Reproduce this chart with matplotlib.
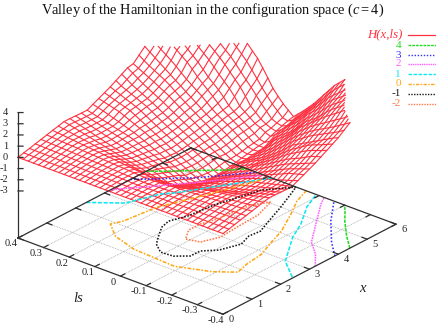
import numpy as np
import matplotlib
matplotlib.use("Agg")
import matplotlib.pyplot as plt
from matplotlib.lines import Line2D
from mpl_toolkits.mplot3d import proj3d

plt.rcParams['font.family'] = ['Liberation Serif', 'DejaVu Serif']
plt.rcParams['mathtext.fontset'] = 'custom'
plt.rcParams['mathtext.rm'] = 'Liberation Serif'
plt.rcParams['mathtext.it'] = 'Liberation Serif:italic'

# grid of the surface
x_grid = np.arange(31) * 0.2
ls_grid = 0.4 - np.arange(41) * 0.02
z_floor = -7.2
z_top = 4

# H(x,ls), one row per x value, ls going from 0.4 to -0.4
H = [
[0]*41,
[.13,.13,.12,.12,.12,.11,.11,.11,.1,.1,.09,.09,.09,.08,.08,.08,.07,.07,.06,.06,.05,.06,.06,.07,.07,.08,.08,.08,.09,.09,.09,.1,.1,.11,.11,.11,.12,.12,.12,.13,.13],
[.26,.25,.24,.24,.23,.22,.21,.2,.2,.19,.18,.17,.16,.16,.15,.14,.13,.12,.12,.11,.1,.11,.12,.12,.13,.14,.15,.16,.16,.17,.18,.19,.2,.2,.21,.22,.23,.24,.24,.25,.26],
[.4,.39,.37,.36,.34,.33,.32,.3,.29,.27,.26,.25,.23,.22,.2,.19,.18,.16,.15,.13,.12,.13,.15,.16,.18,.19,.2,.22,.23,.25,.26,.27,.29,.3,.32,.33,.34,.36,.37,.39,.4],
[.53,.51,.49,.47,.44,.42,.4,.38,.36,.34,.31,.29,.27,.25,.23,.21,.18,.16,.14,.12,.1,.12,.14,.16,.18,.21,.23,.25,.27,.29,.31,.34,.36,.38,.4,.42,.44,.47,.49,.51,.53],
[.66,.63,.6,.57,.54,.52,.49,.46,.43,.4,.37,.34,.31,.28,.25,.23,.2,.17,.14,.11,.08,.11,.14,.17,.2,.23,.25,.28,.31,.34,.37,.4,.43,.46,.49,.52,.54,.57,.6,.63,.66],
[.8,.75,.71,.66,.61,.56,.52,.47,.42,.38,.33,.28,.24,.19,.14,.09,.05,0,-.05,-.1,-.15,-.12,-.09,-.06,-.03,0,.05,.11,.16,.21,.27,.32,.37,.43,.48,.53,.59,.64,.69,.75,.8],
[.92,.84,.77,.69,.61,.54,.46,.38,.31,.23,.15,.08,0,-.09,-.19,-.28,-.38,-.47,-.56,-.66,-.75,-.64,-.54,-.43,-.32,-.21,-.11,0,.07,.14,.21,.28,.35,.42,.5,.57,.64,.71,.78,.85,.92],
[1.05,.94,.83,.72,.61,.5,.39,.28,.17,.06,-.05,-.16,-.26,-.37,-.47,-.58,-.68,-.79,-.89,-1,-1.2,-1.15,-1.06,-.94,-.81,-.69,-.56,-.44,-.31,-.19,-.06,.05,.16,.27,.38,.49,.6,.72,.83,.94,1.05],
[1.05,.92,.79,.66,.53,.39,.26,.13,0,-.11,-.22,-.33,-.44,-.56,-.67,-.78,-.89,-1,-1.2,-1.4,-1.5,-1.4,-1.25,-1.07,-.94,-.82,-.71,-.59,-.47,-.35,-.24,-.12,0,.13,.26,.39,.53,.66,.79,.92,1.05],
[1.02,.89,.76,.63,.5,.37,.24,.11,-.03,-.15,-.27,-.39,-.52,-.64,-.76,-.88,-1,-1.18,-1.36,-1.54,-1.7,-1.55,-1.4,-1.25,-1.1,-.94,-.81,-.69,-.56,-.44,-.31,-.19,-.06,.06,.19,.33,.47,.61,.74,.88,1.02],
[1,.88,.76,.64,.52,.39,.27,.15,.03,-.11,-.27,-.42,-.58,-.73,-.88,-1.02,-1.2,-1.38,-1.56,-1.74,-1.9,-1.74,-1.56,-1.38,-1.2,-1,-.86,-.72,-.59,-.45,-.31,-.17,-.03,.09,.22,.35,.48,.61,.74,.87,1],
[1,.88,.76,.65,.53,.41,.29,.18,.06,-.09,-.27,-.45,-.64,-.82,-1,-1.19,-1.38,-1.57,-1.75,-1.94,-2.1,-2.05,-1.88,-1.63,-1.38,-1.13,-.92,-.76,-.6,-.44,-.28,-.12,.05,.17,.29,.41,.53,.65,.76,.88,1],
[1.25,1.13,1,.85,.7,.55,.4,.24,.09,-.1,-.31,-.52,-.73,-.94,-1.16,-1.37,-1.58,-1.79,-2.05,-2.2,-2.3,-2.25,-1.94,-1.71,-1.47,-1.24,-1,-.82,-.64,-.45,-.27,-.09,.07,.21,.36,.5,.64,.79,.93,1.08,1.25],
[1.5,1.38,1.25,1.13,1,.8,.6,.4,.2,0,-.24,-.47,-.71,-.94,-1.18,-1.4,-1.62,-1.84,-2.1,-2.3,-2.5,-2.3,-2,-1.76,-1.53,-1.29,-1.06,-.86,-.67,-.47,-.28,-.08,.12,.31,.51,.7,.9,1.12,1.25,1.38,1.5],
[1.75,1.6,1.45,1.3,1.15,1,.75,.5,.25,0,-.25,-.5,-.75,-1,-1.22,-1.44,-1.67,-1.89,-2.15,-2.4,-2.6,-2.35,-2,-1.79,-1.57,-1.36,-1.15,-.93,-.71,-.49,-.27,-.05,.18,.41,.65,.88,1.08,1.25,1.42,1.58,1.75],
[2,1.82,1.64,1.45,1.27,1.09,.87,.6,.33,.07,-.18,-.43,-.68,-.93,-1.18,-1.41,-1.65,-1.88,-2.15,-2.45,-2.65,-2.35,-2,-1.78,-1.56,-1.33,-1.11,-.88,-.63,-.38,-.13,.13,.38,.63,.88,1.09,1.27,1.45,1.64,1.82,2],
[2.3,2,1.8,1.6,1.4,1.2,1,.72,.44,.17,-.1,-.35,-.6,-.85,-1.1,-1.34,-1.58,-1.82,-2.1,-2.45,-2.65,-2.35,-2,-1.76,-1.53,-1.29,-1.06,-.75,-.5,-.25,0,.29,.57,.86,1.1,1.3,1.5,1.75,2,2.15,2.3],
[2.6,2.3,2,1.76,1.53,1.29,1.06,.8,.53,.27,0,-.25,-.5,-.75,-1,-1.25,-1.5,-1.75,-2,-2.35,-2.6,-2.3,-1.95,-1.71,-1.47,-1.24,-1,-.71,-.43,-.14,.17,.5,.83,1.13,1.38,1.63,1.88,2.09,2.25,2.42,2.6],
[2.9,2.6,2.3,2,1.75,1.5,1.25,1,.72,.44,.17,-.11,-.38,-.66,-.93,-1.19,-1.44,-1.69,-1.95,-2.25,-2.5,-2.2,-1.87,-1.63,-1.38,-1.14,-.92,-.62,-.31,0,.36,.71,1.06,1.34,1.63,1.92,2.14,2.32,2.5,2.7,2.9],
[3,2.76,2.53,2.29,2.06,1.8,1.55,1.3,.97,.67,.36,.05,-.23,-.54,-.85,-1.14,-1.43,-1.71,-2,-2.25,-2.4,-2.2,-1.88,-1.63,-1.38,-1.13,-.83,-.5,-.17,.2,.6,1,1.25,1.5,1.75,2,2.25,2.5,2.75,3,3.2],
[3.5,3.17,2.88,2.63,2.38,2.13,1.83,1.48,1.14,.81,.5,.19,-.12,-.41,-.71,-1,-1.31,-1.62,-1.92,-2.2,-2.3,-2.2,-1.86,-1.57,-1.29,-1,-.64,-.27,.1,.5,.9,1.23,1.54,1.85,2.12,2.35,2.59,2.82,3.05,3.3,3.6],
[4,3.67,3.33,3,2.67,2.33,2,1.67,1.33,1,.67,.33,0,-.29,-.57,-.86,-1.17,-1.5,-1.83,-2.1,-2.2,-2.1,-1.79,-1.48,-1.16,-.8,-.4,0,.4,.8,1.17,1.5,1.83,2.13,2.38,2.63,2.88,3.14,3.43,3.71,4],
[4.5,4.17,3.83,3.5,3.17,2.8,2.4,2,1.67,1.33,1,.6,.2,-.14,-.43,-.71,-1,-1.33,-1.67,-2,-2.1,-2.05,-1.7,-1.3,-.9,-.53,-.15,.26,.68,1.09,1.45,1.82,2.14,2.43,2.71,3,3.29,3.57,3.86,4.2,4.55],
[4.85,4.6,4.4,4.18,3.82,3.45,3.09,2.63,2.13,1.7,1.3,.89,.44,0,-.31,-.62,-.92,-1.25,-1.58,-1.92,-2,-2,-1.5,-1,-.66,-.31,.05,.5,1,1.36,1.73,2.09,2.45,2.82,3.14,3.45,3.77,4.1,4.4,4.7,5],
[5.5,5.3,5,4.7,4.2,3.8,3.4,3,2.5,2,1.6,1.2,.71,.14,-.23,-.54,-.85,-1.17,-1.5,-1.83,-1.95,-1.7,-1.2,-.83,-.5,-.17,.25,.75,1.25,1.58,1.91,2.33,2.78,3.17,3.5,3.83,4.17,4.5,4.83,5.17,5.5],
[5.8,5.5,5.2,4.9,4.6,4.3,3.9,3.5,3.1,2.63,2.13,1.67,1.22,.67,0,-.35,-.7,-1.05,-1.25,-1.5,-1.7,-1.35,-1,-.64,-.27,.13,.63,1.1,1.48,1.88,2.3,2.77,3.17,3.5,3.83,4.17,4.5,4.83,5.17,5.5,5.8],
[6,5.7,5.4,5.2,4.9,4.6,4.3,4,3.6,3.2,2.75,2.25,1.75,1.25,.6,-.1,-.5,-.92,-1.2,-1.4,-1.5,-1.2,-.8,-.4,0,.5,1,1.4,1.8,2.25,2.75,3.17,3.5,3.83,4.17,4.5,4.83,5.17,5.5,5.8,6.1],
[6.2,5.95,5.7,5.45,5.2,4.95,4.7,4.35,4,3.6,3.2,2.7,2.15,1.63,1.13,.57,0,-.5,-1,-1.2,-1.3,-1.1,-.65,-.17,.3,.8,1.27,1.7,2.2,2.73,3.15,3.5,3.9,4.25,4.6,4.95,5.3,5.6,5.9,6.2,6.5],
[6.5,6.25,6,5.75,5.5,5.25,5,4.75,4.5,4.22,3.78,3.33,2.85,2.25,1.63,1,.43,-.11,-.56,-1,-1.12,-.88,-.4,.1,.58,1.07,1.57,2.08,2.66,3.17,3.6,4,4.35,4.7,5,5.3,5.6,5.9,6.2,6.5,6.8],
[7,6.75,6.5,6.2,5.9,5.6,5.3,5.1,4.8,4.55,4.3,4,3.5,3,2.33,1.6,.85,.3,-.2,-.6,-1,-.57,-.13,.35,.85,1.41,2,2.57,3.14,3.57,4,4.3,4.6,4.9,5.2,5.5,5.8,6.1,6.4,6.7,7],
]
H = np.array(H, dtype=float)

# contour lines on the base plane, (x, ls)
c_p4 = [[(4.45,.4),(4.7,.36),(5.2,.29),(5.6,.23),(6,.18)], [(4.4,-.4),(4.82,-.34),(5.38,-.27),(5.7,-.235),(6,-.2)]]
c_p3 = [[(3.9,.4),(4.93,.256),(6,.144)], [(3.88,-.4),(4.37,-.332),(5.18,-.238),(5.96,-.162)]]
c_p2 = [[(3.2,.4),(3.57,.362),(4.7,.24),(5.94,.12)], [(3.2,-.4),(3.67,-.348),(4.08,-.286),(4.97,-.206),(5.7,-.141),(6,-.12)]]
c_p1 = [[(2.37,.4),(2.91,.308),(3.77,.268),(4,.242),(5.72,.107),(6,.085)],
        [(2.44,-.396),(2.96,-.31),(4,-.222),(4.63,-.183),(5.38,-.122),(5.97,-.09)]]
c_0 = [[(5.76,.1),(4.19,.17),(3.22,.218),(2.85,.224),(2.18,.234),(1.88,.251),(1.48,.187),(1.24,.088),(1.16,-.08),
        (1.5,-.19),(1.85,-.25),(2.29,-.235),(2.9,-.225),(3.5,-.195),(4.07,-.17),(4.87,-.117),(5.46,-.074),(5.99,-.05)]]
c_m1 = [[(6,-.01),(5.37,.056),(4.11,.098),(3.3,.11),(2.83,.131),(2.5,.12),(2.1,.088),(1.76,.058),(1.51,.014),(1.54,-.033),
         (1.79,-.071),(2.13,-.072),(2.43,-.11),(2.99,-.135),(3.41,-.117),(3.77,-.122),(4.28,-.097),(5,-.063),(5.65,-.029),(6,-.01)]]
c_m2 = [[(5.05,-.018),(4.64,.014),(3.6,.03),(3.18,.046),(2.77,.046),(2.38,.014),(2.48,-.033),(2.96,-.057),(3.72,-.05),(4.36,-.046),(5.05,-.018)]]

contour_sets = [c_p4, c_p3, c_p2, c_p1, c_0, c_m1, c_m2]
contour_labels = ['4', '3', '2', '1', '0', '-1', '-2']
contour_colors = ['#20e020', '#3030ff', '#ff60ff', '#10e8f0', '#ffa818', '#181818', '#ff7848']
contour_styles = [(0, (2, 0.7)), (0, (1, 1.2)), (0, (1, 0.6)), (0, (2.6, 1)), (0, (2.4, 1, 1, 1)), (0, (1, 1)), (0, (1, 0.9))]

x_ticks = [0, 1, 2, 3, 4, 5, 6]
ls_ticks = [0.4, 0.3, 0.2, 0.1, 0, -0.1, -0.2, -0.3, -0.4]
ls_names = ['0.4', '0.3', '0.2', '0.1', '0', '-0.1', '-0.2', '-0.3', '-0.4']
z_ticks = [4, 3, 2, 1, 0, -1, -2, -3]

W, Hpx = 436, 327
fig = plt.figure(figsize=(W / 100, Hpx / 100), dpi=100)
ax = fig.add_axes([0, 0, 1, 1], projection='3d', proj_type='ortho')
ax.computed_zorder = False
ax.view_init(elev=26.1, azim=-139.8)
aspect = (268, 268.4, 139.7)
ax.set_box_aspect(aspect)
ax.set_xlim(0, 6)
ax.set_ylim(-0.4, 0.4)
ax.set_zlim(z_floor, z_top)
ax.set_axis_off()


def to_px(x, y, z):
    # pixel position of a data point, y counted from the top
    u, v, _ = proj3d.proj_transform(x, y, z, ax.get_proj())
    p = ax.transData.transform((u, v))
    return p[0], Hpx - p[1]


def label(x, y, z, s, **kw):
    # data anchored text, put on the figure
    p = to_px(x, y, z)
    fig.text(p[0] / W, 1 - p[1] / Hpx, s, **kw)


# fit the box on the reference corners
fig.canvas.draw()
a = to_px(0, 0.4, z_floor)
b = to_px(0, -0.4, z_floor)
ax.set_box_aspect(aspect, zoom=205 / (b[0] - a[0]))
fig.canvas.draw()
a = to_px(0, 0.4, z_floor)
ax.set_position([(18 - a[0]) / W, (a[1] - 238) / Hpx, 1, 1])
fig.canvas.draw()


def draw(xs, ys, zs, **kw):
    ax.plot(xs, ys, zs, clip_on=False, **kw)


def draw_clipped(xs, ys, zs):
    # cut a mesh line where it leaves the top of the z range
    px, py, pz = [], [], []
    for i in range(len(zs)):
        if i > 0 and (zs[i - 1] > z_top) != (zs[i] > z_top):
            t = (z_top - zs[i - 1]) / (zs[i] - zs[i - 1])
            px.append(xs[i - 1] + t * (xs[i] - xs[i - 1]))
            py.append(ys[i - 1] + t * (ys[i] - ys[i - 1]))
            pz.append(z_top)
            if zs[i] > z_top:
                draw(px, py, pz, color='#ff3040', lw=0.8, zorder=3)
                px, py, pz = [], [], []
        if zs[i] <= z_top:
            px.append(xs[i])
            py.append(ys[i])
            pz.append(zs[i])
    if len(px) > 1:
        draw(px, py, pz, color='#ff3040', lw=0.8, zorder=3)


# base grid
for v in x_ticks[1:-1]:
    draw([v, v], [-0.4, 0.4], [z_floor, z_floor], color='#aaaaaa', lw=0.6, ls=(0, (1, 1)), zorder=1)
for v in ls_ticks[1:-1]:
    draw([0, 6], [v, v], [z_floor, z_floor], color='#aaaaaa', lw=0.6, ls=(0, (1, 1)), zorder=1)

# surface
for i in range(len(x_grid)):
    draw_clipped(np.full(41, x_grid[i]), ls_grid, H[i])
for j in range(len(ls_grid)):
    draw_clipped(x_grid, np.full(31, ls_grid[j]), H[:, j])

# contours
for cset, col, st in zip(contour_sets, contour_colors, contour_styles):
    for part in cset:
        pts = np.array(part)
        draw(pts[:, 0], pts[:, 1], np.full(len(pts), z_floor), color=col, lw=1.15, ls=st, zorder=4)

# base border, ticks and labels
border = '#303030'
tick_font = dict(fontsize=7.5, color='#222222', ha='center', va='center')
draw([0, 6, 6, 0, 0], [0.4, 0.4, -0.4, -0.4, 0.4], [z_floor] * 5, color=border, lw=0.9, zorder=5)
for v in x_ticks:
    draw([v, v], [-0.4, -0.38], [z_floor, z_floor], color=border, lw=0.9, zorder=5)
    draw([v, v], [0.4, 0.38], [z_floor, z_floor], color=border, lw=0.9, zorder=5)
    label(v - 0.08, -0.44, z_floor, str(v), **tick_font)
for v, name in zip(ls_ticks, ls_names):
    draw([0, 0.15], [v, v], [z_floor, z_floor], color=border, lw=0.9, zorder=5)
    draw([6, 5.85], [v, v], [z_floor, z_floor], color=border, lw=0.9, zorder=5)
    label(-0.335, v - 0.01, z_floor, name, **tick_font)

# z axis
draw([0, 0], [0.4, 0.4], [z_floor, 4], color=border, lw=0.9, zorder=5)
for v in z_ticks:
    draw([0, 0.072], [0.4, 0.3886], [v, v], color=border, lw=0.9, zorder=5)
    label(-0.143, 0.4225, v, str(v), fontsize=7.5, color='#222222', ha='right', va='center')

fig.text(78 / W, 1 - 298 / Hpx, 'ls', fontsize=10.5, style='italic', color='#222222', ha='center', va='center')
fig.text(362 / W, 1 - 288 / Hpx, 'x', fontsize=10.5, style='italic', color='#222222', ha='center', va='center')
fig.text(213 / W, 1 - 10 / Hpx, r'Valley of the Hamiltonian in the configuration space ($\mathit{c{=}4}$)',
         fontsize=10.4, color='#111111', ha='center', va='center')

# legend
fig.text(403 / W, 1 - 34 / Hpx, 'H(x,ls)', fontsize=9.3, style='italic', color='#ff3040', ha='right', va='center')
fig.add_artist(Line2D([408 / W, 436 / W], [1 - 35 / Hpx] * 2, color='#ff3040', lw=0.9))
leg_y = [45, 55, 64, 74, 84, 94, 104]
for name, col, st, y in zip(contour_labels, contour_colors, contour_styles, leg_y):
    fig.text(401 / W, 1 - y / Hpx, name, fontsize=8, color=col, ha='right', va='center')
    fig.add_artist(Line2D([408 / W, 436 / W], [1 - y / Hpx] * 2, color=col, lw=1.0, ls=st))

fig.savefig('out.png', dpi=100)
